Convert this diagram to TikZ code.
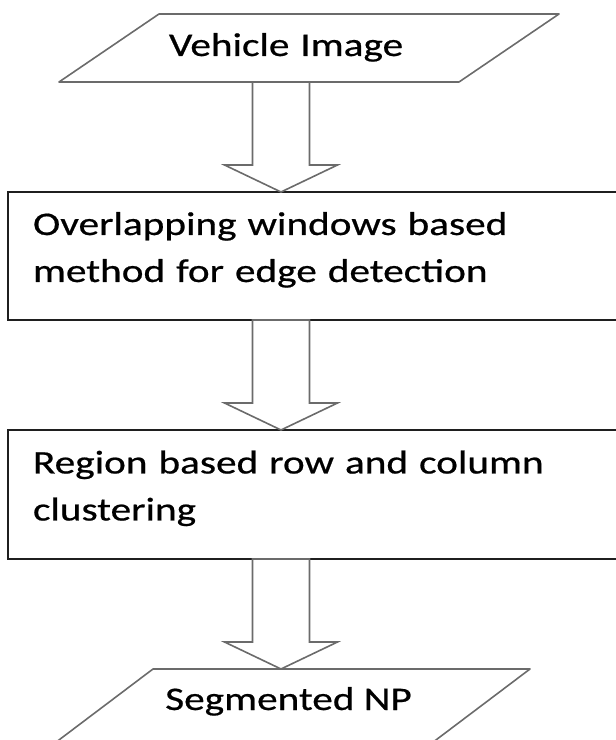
\documentclass[tikz,border=0pt]{standalone}
\usepackage{fontspec}
\setmainfont{Carlito}[FakeStretch=1.25, FakeBold=0.6]
\usetikzlibrary{calc}

\newcommand\flowarrow[2]{%
  \draw[blockarrow] let \p1=(#1.south -| spine), \p2=(#2.north -| spine) in
    (\x1-28.5pt,\y1) -- (\x1-28.5pt,\y2+27pt) -- (\x1-56.5pt,\y2+27pt) -- (\p2)
    -- (\x1+56.5pt,\y2+27pt) -- (\x1+28.5pt,\y2+27pt) -- (\x1+28.5pt,\y1) -- cycle;}

\begin{document}
\begin{tikzpicture}[x=1pt,y=1pt,
  font=\fontsize{33pt}{47pt}\selectfont,
  iobody/.style={inner sep=0pt, outer sep=0pt, text height=25pt},
  procbox/.style={draw=black!88, line width=1.2pt, inner xsep=25pt, inner ysep=0pt,
    outer sep=0pt, align=left, text width=572pt, minimum width=622pt,
    text height=25pt, text depth=67pt},
  ioframe/.style={draw=black!58, line width=1.6pt, line join=round},
  blockarrow/.style={draw=black!58, line width=1.6pt, fill=white, line join=miter}]

\path[use as bounding box, clip] (0,0) rectangle (616,740);

% vertical line through which all block arrows run
\coordinate (spine) at (281,0);

% input: vehicle image
\node[iobody, align=left, text depth=9pt, text width=280pt, inner xsep=60pt,
  minimum width=400pt, minimum height=68pt] (vin) at (309,692) {Vehicle Image};
\draw[ioframe] ([xshift=50pt]vin.north west) -- ([xshift=50pt]vin.north east)
  -- ([xshift=-50pt]vin.south east) -- ([xshift=-50pt]vin.south west) -- cycle;

% processing steps
\node[procbox, minimum height=128pt] (edge) at (319,484)
  {Overlapping windows based\\method for edge detection};
\node[procbox, minimum height=129pt] (clus) at (319,245.5)
  {Region based row and column\\clustering};

% output: segmented number plate
\node[iobody, text depth=23pt, minimum width=377pt, minimum height=80pt] (seg) at (288.5,31) {Segmented NP};
\draw[ioframe] ([xshift=53pt]seg.north west) -- ([xshift=53pt]seg.north east)
  -- ([xshift=-53pt]seg.south east) -- ([xshift=-53pt]seg.south west) -- cycle;

% block arrows between the stages
\flowarrow{vin}{edge}
\flowarrow{edge}{clus}
\flowarrow{clus}{seg}
\end{tikzpicture}
\end{document}
